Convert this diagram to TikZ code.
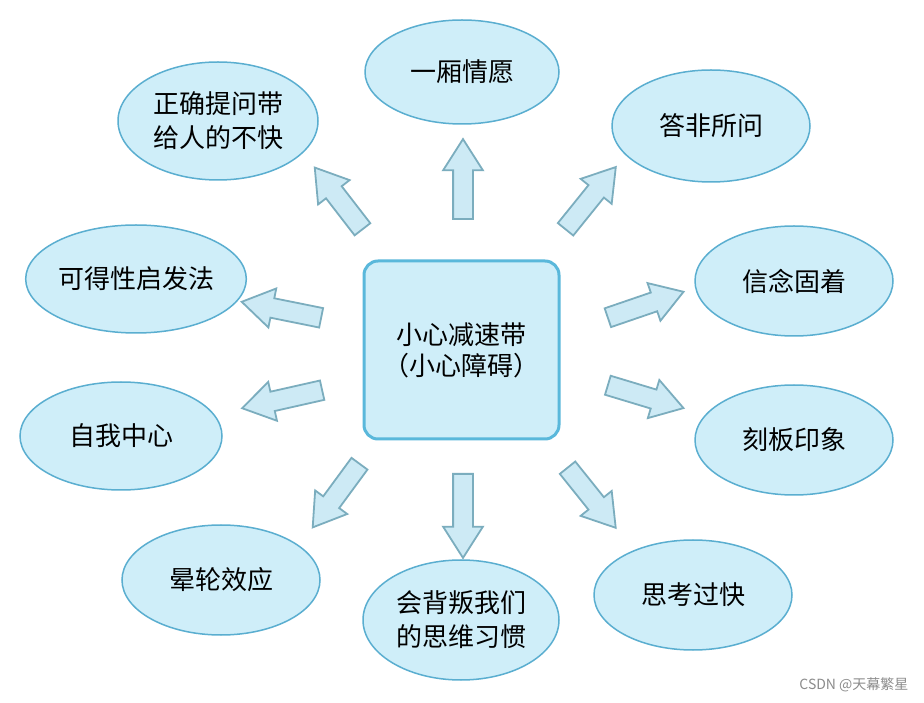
\documentclass[tikz,border=0pt]{standalone}
\usepackage{fontspec}
\setmainfont{Noto Sans CJK SC}
\usetikzlibrary{shapes.arrows,shapes.geometric}
\definecolor{bubblefill}{HTML}{CFEEF9}
\definecolor{bubbleline}{HTML}{5AAED0}
\definecolor{arrowfill}{HTML}{CDEAF5}
\definecolor{arrowline}{HTML}{7BADBE}
\definecolor{boxline}{HTML}{5AB8DB}
\begin{document}
\begin{tikzpicture}[x=1pt,y=1pt,
  bubble/.style={ellipse,draw=bubbleline,fill=bubblefill,line width=1.5pt,inner sep=0pt,align=center,font=\fontsize{26}{34}\selectfont},
  blockarrow/.style={single arrow,draw=arrowline,fill=arrowfill,line width=1.8pt,inner xsep=0pt,inner ysep=9pt,
    single arrow head extend=10pt,single arrow tip angle=65,anchor=tail}]
  \useasboundingbox[fill=white] (0,0) rectangle (924,702);
  % 中心
  \node[draw=boxline,fill=bubblefill,line width=3pt,rounded corners=14pt,minimum width=195pt,minimum height=178pt,
    align=center,font=\fontsize{26}{31}\selectfont] (core) at (461.5,352) {小心减速带\\\makebox[5em]{（\hfill 小心障碍\hfill ）}};
  % 周围
  \node[bubble,minimum width=194pt,minimum height=104pt] (wish) at (462,630) {一厢情愿};
  \node[bubble,minimum width=200pt,minimum height=118pt] (ask) at (218,581) {正确提问带\\给人的不快};
  \node[bubble,minimum width=198pt,minimum height=112pt] (miss) at (711,576) {答非所问};
  \node[bubble,minimum width=216pt,minimum height=108pt] (avail) at (136,423) {可得性启发法};
  \node[bubble,minimum width=198pt,minimum height=110pt] (belief) at (794,421) {信念固着};
  \node[bubble,minimum width=202pt,minimum height=108pt] (ego) at (121,266) {自我中心};
  \node[bubble,minimum width=198pt,minimum height=110pt] (stereo) at (794,262) {刻板印象};
  \node[bubble,minimum width=198pt,minimum height=110pt] (halo) at (221,122) {晕轮效应};
  \node[bubble,minimum width=196pt,minimum height=120pt] (habit) at (461,82) {会背叛我们\\的思维习惯};
  \node[bubble,minimum width=198pt,minimum height=110pt] (fast) at (693,107) {思考过快};
  % 箭头(以箭尾定位)
  \node[blockarrow,minimum height=80pt,rotate=90] (a1) at (463,482) {};
  \node[blockarrow,minimum height=78pt,rotate=127.7] (a2) at (363,472) {};
  \node[blockarrow,minimum height=80pt,rotate=51.1] (a3) at (565,472) {};
  \node[blockarrow,minimum height=81pt,rotate=168.6] (a4) at (322,384) {};
  \node[blockarrow,minimum height=80pt,rotate=18.9] (a5) at (607,384) {};
  \node[blockarrow,minimum height=82pt,rotate=192.7] (a6) at (323,312) {};
  \node[blockarrow,minimum height=79pt,rotate=-16.8] (a7) at (607,317) {};
  \node[blockarrow,minimum height=79pt,rotate=233.7] (a8) at (360,239) {};
  \node[blockarrow,minimum height=84pt,rotate=270] (a9) at (463,229) {};
  \node[blockarrow,minimum height=77pt,rotate=-51.3] (a10) at (567,235) {};
  \node[anchor=east,text=black!45,font=\fontsize{14}{16}\selectfont] (mark) at (912,17) {CSDN @天幕繁星};
\end{tikzpicture}
\end{document}
